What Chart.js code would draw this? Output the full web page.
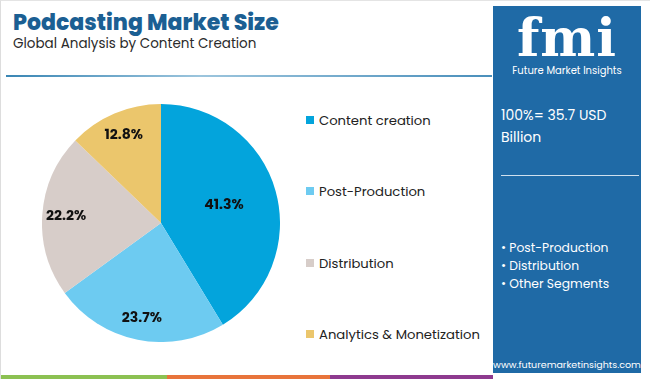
<!DOCTYPE html>
<html>
<head>
<meta charset="utf-8">
<script src="https://cdn.jsdelivr.net/npm/chart.js@4/dist/chart.umd.min.js"></script>
<style>
  body { margin: 0; width: 650px; height: 379px; background: #fff; font-family: "Poppins", "Inter", "Noto Sans", sans-serif; overflow: hidden; }
  #wrap { position: relative; width: 650px; height: 379px; box-sizing: border-box; border-left: 1px solid #ddd; border-top: 1px solid #e4e4e4; }
  #title { position: absolute; left: 12px; top: 5px; font-size: 22px; font-weight: 800; color: #1b5f93; }
  #subtitle { position: absolute; left: 12px; top: 33px; font-size: 13.5px; color: #2b2b2b; }
  #rule { position: absolute; left: 5px; top: 74px; width: 486px; height: 2px; background: linear-gradient(90deg, #3a86b4, #9cc5dd 40%, #4a8fbb); }
  #pieBox { position: absolute; left: 41px; top: 103px; width: 238px; height: 238px; }
  .leg { position: absolute; left: 305px; font-size: 13.2px; color: #222; }
  .leg i { display: inline-block; width: 8px; height: 8px; margin-right: 5px; vertical-align: 1px; }
  #panel { position: absolute; left: 492px; top: 5px; width: 148px; height: 367px; background: #1f6aa6; color: #fff; }
  #logo { position: absolute; left: 0; top: 6px; width: 148px; text-align: center; font-family: "DejaVu Serif", serif; font-weight: bold; font-size: 52px; line-height: 52px; letter-spacing: 1px; }
  #logoTxt { position: absolute; left: 0; top: 57px; width: 148px; text-align: center; font-size: 10px; }
  #total { position: absolute; left: 8px; top: 98px; font-size: 14px; line-height: 22px; }
  #hr { position: absolute; left: 8px; top: 169px; width: 138px; height: 1px; background: #cfe0ee; }
  #segs { position: absolute; left: 8px; top: 233px; font-size: 12.3px; line-height: 18px; }
  #url { position: absolute; left: 0; top: 352px; width: 148px; text-align: center; font-size: 9.5px; }
  .bar { position: absolute; top: 374px; height: 5px; }
</style>
</head>
<body>
<div id="wrap">
  <div id="title">Podcasting Market Size</div>
  <div id="subtitle">Global Analysis by Content Creation</div>
  <div id="rule"></div>
  <div id="pieBox"><canvas id="pie"></canvas></div>
  <div id="legend"></div>
  <div id="panel">
    <div id="logo">fmi</div>
    <div id="logoTxt">Future Market Insights</div>
    <div id="total">100%= 35.7 USD<br>Billion</div>
    <div id="hr"></div>
    <div id="segs">• Post-Production<br>• Distribution<br>• Other Segments</div>
    <div id="url">www.futuremarketinsights.com</div>
  </div>
  <div class="bar" style="left:0;width:166px;background:#8cc152"></div>
  <div class="bar" style="left:166px;width:163px;background:#e8743b"></div>
  <div class="bar" style="left:329px;width:163px;background:#8e3a8f"></div>
</div>
<script>
// DATA
var categories = ["Content creation", "Post-Production", "Distribution", "Analytics & Monetization"];
var shares = [41.3, 23.7, 22.2, 12.8];
var colors = ["#03a4dc", "#6dcbf1", "#d7cdc9", "#ebc66c"];
var labelRadius = [0.55, 0.82, 0.8, 0.8];

// LEGEND
var legTops = [110, 181, 253, 324];
var legend = document.getElementById("legend");
categories.forEach(function (c, i) {
  var d = document.createElement("div");
  d.className = "leg";
  d.style.top = legTops[i] + "px";
  d.innerHTML = '<i style="background:' + colors[i] + '"></i>' + c;
  legend.appendChild(d);
});

// PIE LABELS
var pctLabels = {
  id: "pctLabels",
  afterDatasetsDraw: function (chart) {
    var ctx = chart.ctx;
    var meta = chart.getDatasetMeta(0);
    ctx.save();
    ctx.font = "bold 14px Poppins, Inter, sans-serif";
    ctx.fillStyle = "#111";
    ctx.textAlign = "center";
    ctx.textBaseline = "middle";
    meta.data.forEach(function (arc, i) {
      var mid = (arc.startAngle + arc.endAngle) / 2;
      var r = arc.outerRadius * labelRadius[i];
      ctx.fillText(shares[i].toFixed(1) + "%", arc.x + Math.cos(mid) * r, arc.y + Math.sin(mid) * r);
    });
    ctx.restore();
  }
};

new Chart(document.getElementById("pie"), {
  type: "pie",
  data: {
    labels: categories,
    datasets: [{ data: shares, backgroundColor: colors, borderWidth: 0 }]
  },
  options: {
    responsive: true,
    maintainAspectRatio: false,
    animation: false,
    layout: { padding: 0 },
    plugins: { legend: { display: false }, tooltip: { enabled: false } }
  },
  plugins: [pctLabels]
});
</script>
</body>
</html>
